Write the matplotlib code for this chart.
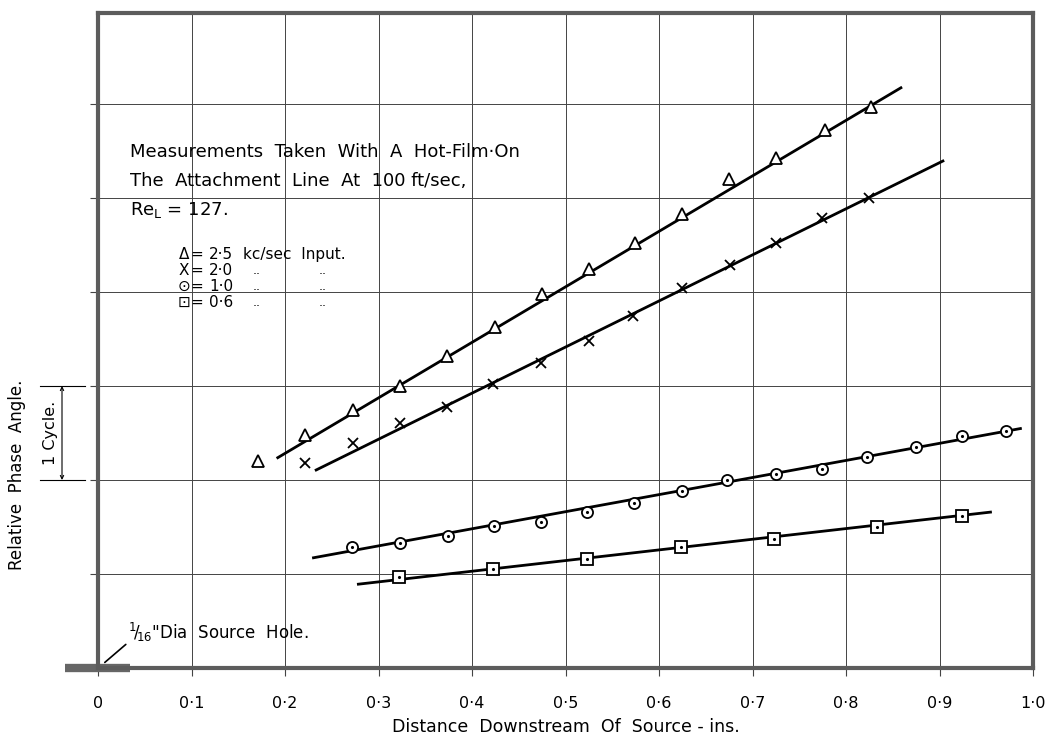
import matplotlib.pyplot as plt

plt.rcParams['font.family'] = ['DejaVu Sans']

# values: x in inches downstream, y in cycles
tri_x = [0.171, 0.221, 0.273, 0.323, 0.373, 0.425, 0.475, 0.525, 0.574, 0.625, 0.675, 0.725, 0.778, 0.827]
tri_y = [2.20, 2.48, 2.74, 3.00, 3.32, 3.63, 3.98, 4.25, 4.52, 4.83, 5.20, 5.43, 5.72, 5.97]

cross_x = [0.221, 0.273, 0.323, 0.373, 0.422, 0.474, 0.525, 0.572, 0.625, 0.676, 0.725, 0.774, 0.825]
cross_y = [2.18, 2.39, 2.61, 2.78, 3.02, 3.24, 3.48, 3.75, 4.04, 4.29, 4.52, 4.79, 5.00]

circ_x = [0.272, 0.323, 0.374, 0.424, 0.474, 0.523, 0.573, 0.625, 0.673, 0.725, 0.774, 0.822, 0.875, 0.924, 0.971]
circ_y = [1.29, 1.33, 1.40, 1.51, 1.55, 1.66, 1.76, 1.88, 2.00, 2.06, 2.12, 2.24, 2.35, 2.47, 2.52]

sq_x = [0.322, 0.422, 0.523, 0.624, 0.723, 0.833, 0.924]
sq_y = [0.97, 1.05, 1.16, 1.29, 1.37, 1.50, 1.62]

# hand drawn fit lines (end points)
fit_tri_x, fit_tri_y = [0.191, 0.860], [2.23, 6.18]
fit_cross_x, fit_cross_y = [0.232, 0.905], [2.10, 5.40]
fit_circ_x, fit_circ_y = [0.229, 0.988], [1.17, 2.55]
fit_sq_x, fit_sq_y = [0.277, 0.956], [0.89, 1.66]

x_ticks = [0, 0.1, 0.2, 0.3, 0.4, 0.5, 0.6, 0.7, 0.8, 0.9, 1.0]
x_tick_labels = ['0', '0·1', '0·2', '0·3', '0·4', '0·5', '0·6', '0·7', '0·8', '0·9', '1·0']
y_grid = [1, 2, 3, 4, 5, 6]

fig = plt.figure(figsize=(10.55, 7.45), dpi=100)
ax = fig.add_axes([98 / 1055, 1 - 668 / 745, 935 / 1055, 655 / 745])
ax.set_xlim(0, 1.0)
ax.set_ylim(0, 655 / 94)

ax.set_xticks(x_ticks)
ax.set_xticklabels(x_tick_labels, fontsize=11.5)
ax.set_yticks(y_grid)
ax.set_yticklabels([])
ax.tick_params(axis='x', direction='out', length=6, width=0.8, pad=14, color='#444')
ax.tick_params(axis='y', direction='out', length=6, width=0.8, color='#444')
ax.grid(True, color='#444', lw=0.7)

for s in ax.spines.values():
    s.set_linewidth(3)
    s.set_color('#5c5c5c')

# fitted lines
for fx, fy in [(fit_tri_x, fit_tri_y), (fit_cross_x, fit_cross_y),
               (fit_circ_x, fit_circ_y), (fit_sq_x, fit_sq_y)]:
    ax.plot(fx, fy, color='black', lw=2, solid_capstyle='butt')

ax.plot(tri_x, tri_y, ls='none', marker='^', ms=8, mfc='white', mec='black', mew=1.3)
ax.plot(cross_x, cross_y, ls='none', marker='x', ms=7, mec='black', mew=1.3)
ax.plot(circ_x, circ_y, ls='none', marker='o', ms=8, mfc='white', mec='black', mew=1.3)
ax.plot(circ_x, circ_y, ls='none', marker='.', ms=2.5, color='black')
ax.plot(sq_x, sq_y, ls='none', marker='s', ms=8, mfc='white', mec='black', mew=1.3)
ax.plot(sq_x, sq_y, ls='none', marker='.', ms=2.5, color='black')

# note
note = ["Measurements  Taken  With  A  Hot-Film·On",
        "The  Attachment  Line  At  100 ft/sec,",
        "Re$_\\mathregular{L}$ = 127."]
for i, line in enumerate(note):
    ax.text(0.034, 5.49 - i * 0.31, line, fontsize=13, ha='left', va='center')

# key
key_sym = ['Δ', 'X', '⊙', '⊡']
key_val = ['2·5', '2·0', '1·0', '0·6']
for i in range(4):
    yy = 4.4 - i * 0.17
    ax.text(0.092, yy, key_sym[i], fontsize=11, ha='center', va='center')
    ax.text(0.106, yy, '=', fontsize=11, ha='center', va='center')
    ax.text(0.119, yy, key_val[i], fontsize=11, ha='left', va='center')
    if i == 0:
        ax.text(0.155, yy, 'kc/sec  Input.', fontsize=11, ha='left', va='center')
    else:
        ax.text(0.17, yy, '..', fontsize=9, ha='center', va='center')
        ax.text(0.24, yy, '..', fontsize=9, ha='center', va='center')

# source hole
ax.plot([-0.035, 0.034], [0, 0], color='#666', lw=6, clip_on=False, solid_capstyle='butt')
ax.annotate('', xy=(0.005, 0.04), xytext=(0.032, 0.27),
            arrowprops=dict(arrowstyle='-', color='black', lw=1.2))
ax.text(0.032, 0.38, '$^{1}\\!/\\!_{16}$"Dia  Source  Hole.', fontsize=12, ha='left', va='center')

# one cycle bracket
ax.plot([-0.062, -0.014], [3, 3], color='black', lw=0.8, clip_on=False)
ax.plot([-0.062, -0.014], [2, 2], color='black', lw=0.8, clip_on=False)
ax.annotate('', xy=(-0.0385, 3), xytext=(-0.0385, 2), annotation_clip=False,
            arrowprops=dict(arrowstyle='<->', color='black', lw=0.8, shrinkA=0, shrinkB=0,
                            mutation_scale=6))
ax.text(-0.051, 2.5, '1 Cycle.', rotation=90, fontsize=11.5, ha='center', va='center')

ax.text(-0.087, 2.05, 'Relative  Phase  Angle.', rotation=90, fontsize=12, ha='center', va='center')

ax.set_xlabel('Distance  Downstream  Of  Source - ins.', fontsize=12.5, labelpad=5)

fig.savefig('out.png', dpi=100)
